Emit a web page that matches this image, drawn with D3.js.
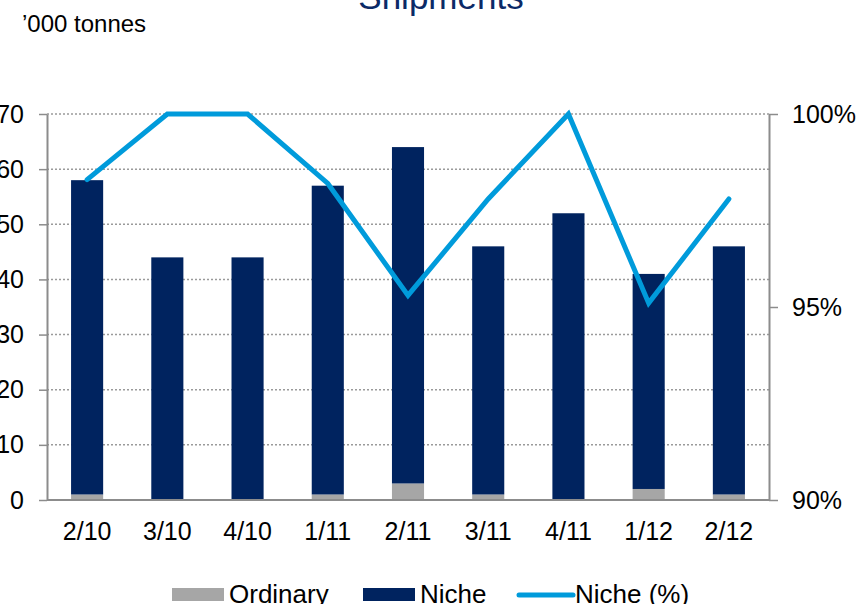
<!DOCTYPE html>
<html>
<head>
<meta charset="utf-8">
<script src="https://cdn.jsdelivr.net/npm/d3@7/dist/d3.min.js"></script>
<style>
  html, body { margin: 0; padding: 0; background: #fff; }
  svg { display: block; font-family: "Liberation Sans", Arial, sans-serif; }
</style>
</head>
<body>
<svg id="chart" width="865" height="604"></svg>
<script>
// Quarterly shipments, '000 tonnes
const quarters = ["2/10", "3/10", "4/10", "1/11", "2/11", "3/11", "4/11", "1/12", "2/12"];
const ordinary = [1, 0, 0, 1, 3, 1, 0, 2, 1];
const niche    = [57, 44, 44, 56, 61, 45, 52, 39, 45];
const nichePct = [98.3, 100, 100, 98.2, 95.3, 97.8, 100, 95.1, 97.8];

const leftTicks  = [0, 10, 20, 30, 40, 50, 60, 70];
const rightTicks = [90, 95, 100];

const colors = { ordinary: "#a6a6a6", niche: "#00235f", pct: "#009bdb" };

const svg = d3.select("#chart");
const plot = { left: 47, right: 769, top: 114, bottom: 500 };

const x = d3.scaleBand()
  .domain(quarters)
  .range([plot.left, plot.right])
  .paddingInner(0.6)
  .paddingOuter(0.3);

const y = d3.scaleLinear().domain([0, 70]).range([plot.bottom, plot.top]);
const yPct = d3.scaleLinear().domain([90, 100]).range([plot.bottom, plot.top]);

// Title and unit label
svg.append("text")
  .attr("x", 441).attr("y", 9)
  .attr("text-anchor", "middle")
  .attr("font-size", 35)
  .attr("fill", "#0b2a67")
  .text("Shipments");

svg.append("text")
  .attr("x", 22).attr("y", 32)
  .attr("font-size", 24)
  .attr("fill", "#000")
  .text("’000 tonnes");

// Dotted gridlines
svg.append("g")
  .selectAll("line")
  .data(leftTicks.filter(d => d > 0))
  .join("line")
  .attr("x1", plot.left).attr("x2", plot.right)
  .attr("y1", d => y(d)).attr("y2", d => y(d))
  .attr("stroke", "#9a9a9a")
  .attr("stroke-width", 1.5)
  .attr("stroke-dasharray", "2,2");

// Stacked bars
const stackData = quarters.map((q, i) => ({ q, ordinary: ordinary[i], niche: niche[i] }));
const stack = d3.stack().keys(["ordinary", "niche"])(stackData);

svg.append("g")
  .selectAll("g")
  .data(stack)
  .join("g")
  .attr("fill", d => colors[d.key])
  .selectAll("rect")
  .data(d => d)
  .join("rect")
  .attr("x", d => x(d.data.q))
  .attr("width", x.bandwidth())
  .attr("y", d => y(d[1]))
  .attr("height", d => y(d[0]) - y(d[1]));

// Axes
const axisColor = "#8c8c8c";
const styleAxis = g => {
  g.selectAll(".domain").attr("stroke", axisColor).attr("stroke-width", 2);
  g.selectAll(".tick line").attr("stroke", axisColor).attr("stroke-width", 1.5);
  g.selectAll(".tick text").attr("font-size", 25).attr("fill", "#000")
    .attr("font-family", "Liberation Sans, Arial, sans-serif");
};

svg.append("g")
  .attr("transform", `translate(${plot.left},0)`)
  .call(d3.axisLeft(y).tickValues(leftTicks).tickSize(8).tickSizeOuter(0).tickPadding(15))
  .call(styleAxis);

svg.append("g")
  .attr("transform", `translate(${plot.right},0)`)
  .call(d3.axisRight(yPct).tickValues(rightTicks).tickSize(9).tickSizeOuter(0).tickPadding(14)
    .tickFormat(d => d + "%"))
  .call(styleAxis);

svg.append("g")
  .attr("transform", `translate(0,${plot.bottom})`)
  .call(d3.axisBottom(x).tickSize(0).tickPadding(22))
  .call(styleAxis)
  .call(g => g.select(".domain").attr("d", `M${plot.left},0H${plot.right}`));

// Niche share line
const line = d3.line()
  .x((d, i) => x(quarters[i]) + x.bandwidth() / 2)
  .y(d => yPct(d));

svg.append("path")
  .datum(nichePct)
  .attr("d", line)
  .attr("fill", "none")
  .attr("stroke", colors.pct)
  .attr("stroke-width", 5)
  .attr("stroke-linejoin", "miter")
  .attr("stroke-linecap", "round");

// Legend
const legend = svg.append("g").attr("font-size", 26).attr("fill", "#000");
const items = [
  { label: "Ordinary", color: colors.ordinary, type: "rect", x0: 172, x1: 224, tx: 229 },
  { label: "Niche", color: colors.niche, type: "rect", x0: 363, x1: 415, tx: 420 },
  { label: "Niche (%)", color: colors.pct, type: "line", x0: 519, x1: 573, tx: 575 }
];
items.forEach(it => {
  if (it.type === "rect") {
    legend.append("rect")
      .attr("x", it.x0).attr("y", 588)
      .attr("width", it.x1 - it.x0).attr("height", 13)
      .attr("fill", it.color);
  } else {
    legend.append("line")
      .attr("x1", it.x0).attr("x2", it.x1)
      .attr("y1", 595).attr("y2", 595)
      .attr("stroke", it.color).attr("stroke-width", 5)
      .attr("stroke-linecap", "round");
  }
  legend.append("text")
    .attr("x", it.tx).attr("y", 603)
    .text(it.label);
});
</script>
</body>
</html>
